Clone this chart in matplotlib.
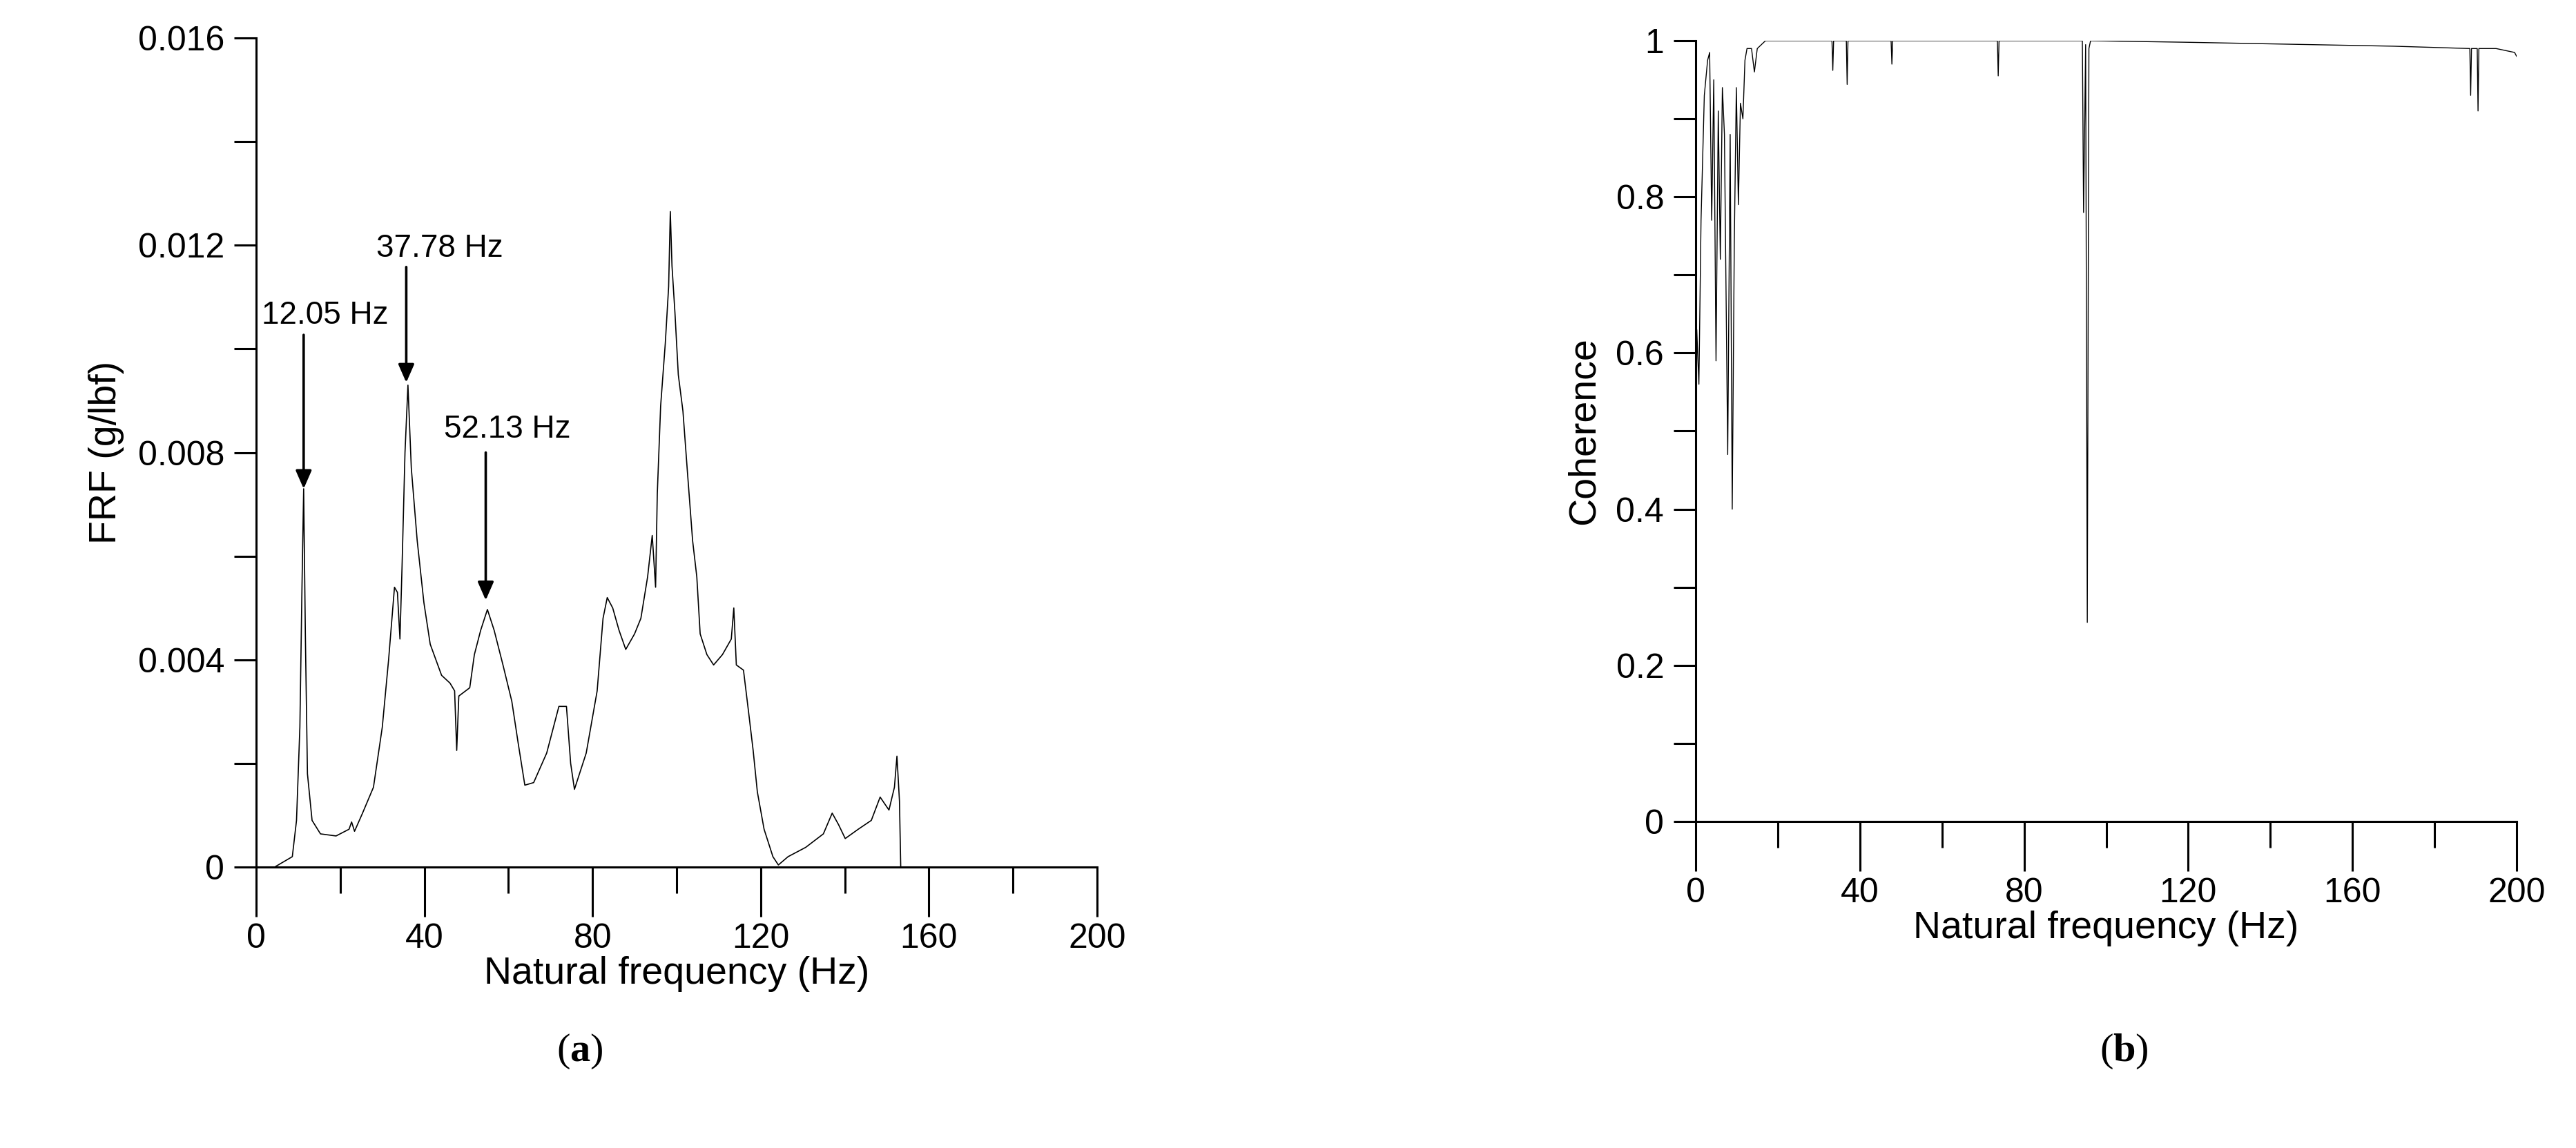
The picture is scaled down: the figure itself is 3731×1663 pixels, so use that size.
import matplotlib
matplotlib.use("Agg")
import matplotlib.pyplot as plt
from matplotlib.ticker import MultipleLocator, FixedFormatter, FixedLocator

plt.rcParams["font.family"] = ["Liberation Sans", "DejaVu Sans"]
plt.rcParams["mathtext.fontset"] = "custom"
plt.rcParams["mathtext.bf"] = "Liberation Serif:bold"
plt.rcParams["mathtext.rm"] = "Liberation Serif"

# --- FRF (a) ---
frf_freq = [0, 4.4, 8.6, 9.6, 10.4, 10.9, 11.3, 11.7, 12.2, 13.3, 15.3, 19, 22.1, 22.7, 23.4,
            25.3, 27.9, 30, 31.5, 32.9, 33.6, 34.2, 34.7, 35.4, 36.1, 36.9, 38.3, 39.9, 41.4,
            44.1, 46.1, 47.2, 47.7, 48.2, 50.8, 51.9, 53.4, 55, 56.6, 58.7, 60.8, 62.3, 63.9,
            66, 69.1, 72, 73.8, 74.8, 75.7, 78.5, 81.1, 82.5, 83.5, 84.8, 86.3, 87.9, 90, 91.5,
            93.1, 94.2, 95, 95.4, 96.2, 97.3, 98.1, 98.5, 98.9, 99.6, 100.4, 101.5, 102.5, 103.8,
            104.8, 105.6, 107.2, 108.8, 110.9, 113, 113.6, 114.2, 115.9, 117.1, 118.2, 119.2,
            120.8, 122.9, 124.2, 126.5, 130.7, 134.9, 137, 138.5, 140.1, 143.2, 146.3, 148.4,
            150.5, 151.8, 152.4, 153, 153.3]
frf_val = [0, 0, 0.0002, 0.0009, 0.0027, 0.0054, 0.0073, 0.0045, 0.0018, 0.0009, 0.00064, 0.0006,
           0.00073, 0.00087, 0.00069, 0.00104, 0.00154, 0.0027, 0.004, 0.0054, 0.0053, 0.0044,
           0.0058, 0.0080, 0.0093, 0.0077, 0.0063, 0.0051, 0.0043, 0.0037, 0.00355, 0.0034,
           0.00225, 0.0033, 0.00346, 0.0041, 0.00457, 0.00497, 0.00457, 0.0039, 0.0032, 0.0024,
           0.00158, 0.00163, 0.0022, 0.0031, 0.0031, 0.002, 0.0015, 0.0022, 0.0034, 0.0048,
           0.0052, 0.005, 0.00457, 0.0042, 0.0045, 0.0048, 0.0056, 0.0064, 0.0054, 0.0072,
           0.0089, 0.0101, 0.0112, 0.01265, 0.0116, 0.0107, 0.0095, 0.0088, 0.0077, 0.0063,
           0.0056, 0.0045, 0.0041, 0.0039, 0.0041, 0.0044, 0.005, 0.0039, 0.0038, 0.003,
           0.00225, 0.00145, 0.00073, 0.0002, 0.00004, 0.0002, 0.00038, 0.00064, 0.00104,
           0.00082, 0.00055, 0.00073, 0.0009, 0.00135, 0.0011, 0.00154, 0.00214, 0.00127, 0]

# peak annotations: label, text (x, y), arrow x, arrow top, arrow tip
peak_labels = ["12.05 Hz", "37.78 Hz", "52.13 Hz"]
peak_text_xy = [(16.4, 0.01065), (43.7, 0.01194), (59.7, 0.00844)]
peak_arrow_x = [11.3, 35.7, 54.6]
peak_arrow_top = [0.01027, 0.01158, 0.0080]
peak_arrow_tip = [0.0073, 0.00935, 0.00515]

# --- Coherence (b) ---
coh_freq = [0, 0.26, 0.78, 1.3, 2.1, 2.9, 3.4, 3.9, 4.4, 4.95, 5.5, 6, 6.5, 7.0, 7.8, 8.4, 8.9,
            9.4, 9.9, 10.4, 10.9, 11.5, 12, 12.5, 13.6, 14.3, 15, 17, 33.2, 33.4, 33.6, 36.7,
            36.9, 37.1, 47.6, 47.8, 48.0, 73.5, 73.7, 73.9, 94.2, 94.5, 95.0, 95.4, 95.8, 96.2,
            120, 150, 170, 188.6, 188.8, 189.0, 190.4, 190.6, 190.8, 195, 199.5, 200]
coh_val = [0.25, 0.63, 0.56, 0.77, 0.93, 0.975, 0.985, 0.77, 0.95, 0.59, 0.91, 0.72, 0.94,
           0.88, 0.47, 0.88, 0.40, 0.74, 0.94, 0.79, 0.92, 0.90, 0.975, 0.99, 0.99, 0.96, 0.99,
           1.0, 1.0, 0.962, 1.0, 1.0, 0.944, 1.0, 1.0, 0.97, 1.0, 1.0, 0.955, 1.0, 1.0, 0.78,
           0.995, 0.255, 0.99, 1.0, 0.998, 0.995, 0.993, 0.99, 0.93, 0.99, 0.99, 0.91, 0.99,
           0.99, 0.985, 0.98]

W, H = 3731, 1663
fig = plt.figure(figsize=(W / 100, H / 100), dpi=100)
ax_a = fig.add_axes([371 / W, 1 - 1256 / H, (1589 - 371) / W, (1256 - 55) / H])
ax_b = fig.add_axes([2456 / W, 1 - 1190 / H, (3645 - 2456) / W, (1190 - 59) / H])


def style(ax):
    for s in ("top", "right"):
        ax.spines[s].set_visible(False)
    for s in ("left", "bottom"):
        ax.spines[s].set_linewidth(2.2)
    ax.tick_params(axis="both", which="both", direction="out", width=2.2, labelsize=36)
    ax.tick_params(axis="x", which="major", length=52, pad=6)
    ax.tick_params(axis="x", which="minor", length=27)
    ax.tick_params(axis="y", which="both", length=23, pad=10)
    ax.set_xlim(0, 200)
    ax.xaxis.set_major_locator(MultipleLocator(40))
    ax.xaxis.set_minor_locator(MultipleLocator(20))
    ax.set_xlabel("Natural frequency (Hz)", fontsize=40, labelpad=2)


# (a)
ax_a.plot(frf_freq, frf_val, color="black", lw=1.2)
style(ax_a)
ax_a.set_ylim(0, 0.016)
ax_a.yaxis.set_major_locator(FixedLocator([0, 0.004, 0.008, 0.012, 0.016]))
ax_a.yaxis.set_major_formatter(FixedFormatter(["0", "0.004", "0.008", "0.012", "0.016"]))
ax_a.yaxis.set_minor_locator(MultipleLocator(0.002))
ax_a.set_ylabel("FRF (g/lbf)", fontsize=40, labelpad=14)
for lab, (tx, ty), axx, top, tip in zip(peak_labels, peak_text_xy, peak_arrow_x,
                                        peak_arrow_top, peak_arrow_tip):
    ax_a.text(tx, ty, lab, fontsize=33, ha="center", va="center")
    ax_a.annotate("", xy=(axx, tip), xytext=(axx, top),
                  arrowprops=dict(arrowstyle="-|>,head_length=1.6,head_width=0.7",
                                  color="black", lw=2.6, shrinkA=0, shrinkB=0))

# (b)
ax_b.plot(coh_freq, coh_val, color="black", lw=1.0)
style(ax_b)
ax_b.set_ylim(0, 1)
ax_b.yaxis.set_major_locator(FixedLocator([0, 0.2, 0.4, 0.6, 0.8, 1.0]))
ax_b.yaxis.set_major_formatter(FixedFormatter(["0", "0.2", "0.4", "0.6", "0.8", "1"]))
ax_b.yaxis.set_minor_locator(MultipleLocator(0.1))
ax_b.set_ylabel("Coherence", fontsize=40, labelpad=14)

fig.text(840 / W, 1 - 1523 / H, r"$\mathrm{(}\mathbf{a}\mathrm{)}$", fontsize=42,
         ha="center", va="center")
fig.text(3076 / W, 1 - 1523 / H, r"$\mathrm{(}\mathbf{b}\mathrm{)}$", fontsize=42,
         ha="center", va="center")

fig.savefig("out.png", dpi=100)
